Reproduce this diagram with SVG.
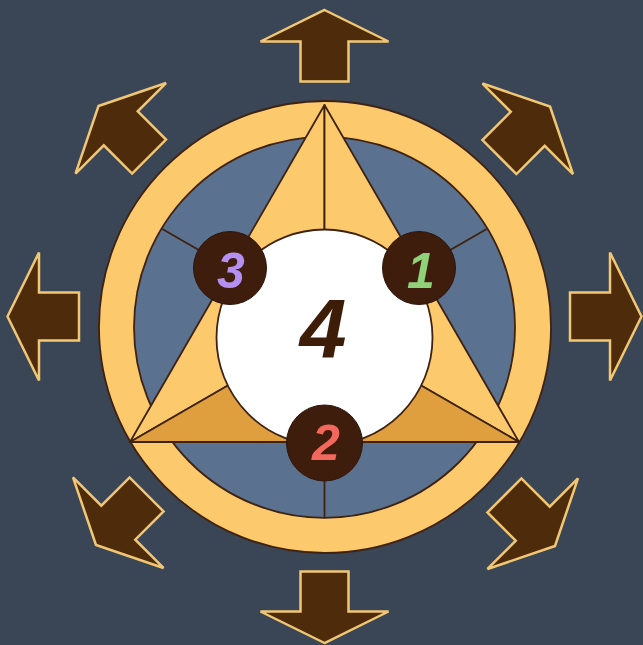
<svg xmlns="http://www.w3.org/2000/svg" width="643" height="645" viewBox="0 0 643 645">
<style>
.arrow{fill:#4e2c0b;stroke:#f2c774;stroke-width:2.5;stroke-linejoin:miter}
.line{stroke:#3f2210;stroke-width:1.8;fill:none}
.ink{stroke:#3f2210;stroke-width:1.8;stroke-linejoin:round}
.light{fill:#fcc96d}
.dark{fill:#df9f3f}
.node{fill:#3e1d0c;stroke:#2e150a;stroke-width:1}
.num{font-family:"Liberation Sans",Arial,sans-serif;font-weight:bold;font-style:italic;text-anchor:middle}
</style>
<defs>
<path id="arrowShape" d="M0,0 L64,31.5 L24,31.5 L24,71.5 L-24,71.5 L-24,31.5 L-64,31.5 Z"/>
</defs>
<rect x="0" y="0" width="643" height="645" fill="#3a4556"/>
<g id="arrows">
<use href="#arrowShape" class="arrow" transform="translate(324.5,10)"/>
<use href="#arrowShape" class="arrow" transform="translate(324.5,643) rotate(180)"/>
<use href="#arrowShape" class="arrow" transform="translate(7.5,316.5) rotate(-90)"/>
<use href="#arrowShape" class="arrow" transform="translate(641.5,316.5) rotate(90)"/>
<use href="#arrowShape" class="arrow" transform="translate(98.5,106) rotate(-45)"/>
<use href="#arrowShape" class="arrow" transform="translate(550,106.5) rotate(45)"/>
<use href="#arrowShape" class="arrow" transform="translate(96,545) rotate(-135)"/>
<use href="#arrowShape" class="arrow" transform="translate(555,546) rotate(135)"/>
</g>
<g id="ring">
<circle cx="325" cy="327" r="226" class="light ink"/>
<circle cx="324.5" cy="327.3" r="190.5" fill="#5b7190" class="ink"/>
</g>
<g id="connectors">
<line x1="230" y1="268" x2="162.3" y2="229" class="line"/>
<line x1="419" y1="268" x2="486.7" y2="229" class="line"/>
<line x1="324.5" y1="443" x2="324.5" y2="518" class="line"/>
</g>
<g id="triangle">
<polygon points="324.5,105 227.3,273.5 324.5,329.7" class="light ink"/>
<polygon points="324.5,105 421.8,273.5 324.5,329.7" class="light ink"/>
<polygon points="130,442 227.3,273.5 324.5,329.7" class="light ink"/>
<polygon points="519,442 421.8,273.5 324.5,329.7" class="light ink"/>
<polygon points="130,442 324.5,442 324.5,329.7" class="dark ink"/>
<polygon points="519,442 324.5,442 324.5,329.7" class="dark ink"/>
</g>
<g id="node-4">
<circle cx="324.5" cy="337.5" r="108" fill="#ffffff" class="ink"/>
<text x="323" y="358" class="num" font-size="84" fill="#3d1c08">4</text>
</g>
<g id="node-3">
<circle cx="230" cy="268" r="36.5" class="node"/>
<text x="231" y="288" class="num" font-size="50" fill="#b690f0">3</text>
</g>
<g id="node-1">
<circle cx="419" cy="268" r="36.5" class="node"/>
<text x="421" y="288" class="num" font-size="50" fill="#8fd27a">1</text>
</g>
<g id="node-2">
<circle cx="324.5" cy="443" r="38" class="node"/>
<text x="326" y="460" class="num" font-size="50" fill="#f2685c">2</text>
</g>
</svg>
